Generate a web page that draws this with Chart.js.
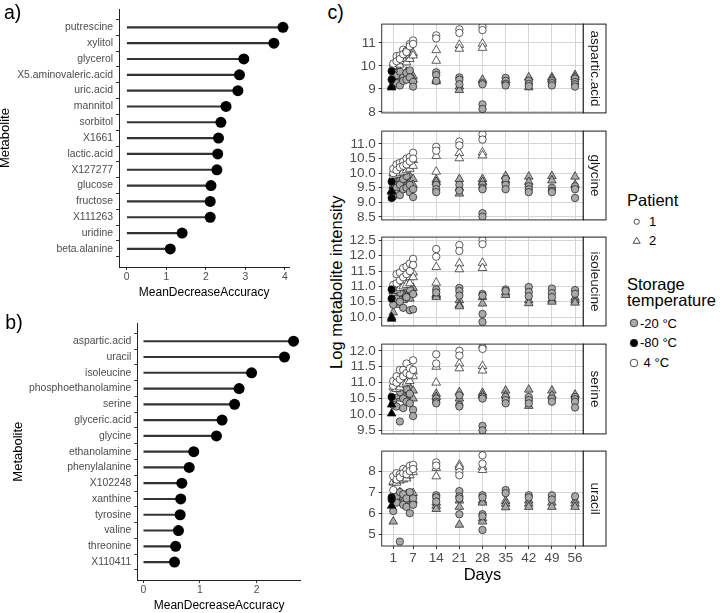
<!DOCTYPE html>
<html><head><meta charset="utf-8">
<script src="https://cdn.jsdelivr.net/npm/chart.js@4.4.0/dist/chart.umd.min.js"></script>
<style>
body{margin:0;background:#fff;}
#wrap{position:relative;width:720px;height:613px;overflow:hidden;background:#fff;font-family:"Liberation Sans",Arial,sans-serif;}
canvas{position:absolute;}
.lbl{position:absolute;color:#000;white-space:pre;line-height:1;}
.sym{position:absolute;}
</style></head><body>
<div id="wrap">
<canvas id="ca" width="300" height="300" style="left:0;top:0"></canvas>
<canvas id="cb" width="310" height="313" style="left:0;top:300px"></canvas>
<div class="lbl" style="left:4px;top:2.7px;font-size:19.5px">a)</div>
<div class="lbl" style="left:5.3px;top:312.7px;font-size:19.5px">b)</div>
<div class="lbl" style="left:327.5px;top:2.7px;font-size:19.5px">c)</div>
<div class="lbl" style="left:185.5px;top:273.75px;width:300px;text-align:center;font-size:16.5px;transform:rotate(-90deg);transform-origin:150px 8.25px">Log metabolite intensity</div>

<div class="lbl" style="left:627px;top:192px;font-size:16.5px">Patient</div>
<svg class="sym" style="left:630px;top:215px" width="14" height="14"><circle cx="6.7" cy="6.7" r="2.6" fill="none" stroke="#222" stroke-width="0.8"/></svg>
<div class="lbl" style="left:649px;top:215.3px;font-size:13px">1</div>
<svg class="sym" style="left:630px;top:234px" width="14" height="14"><polygon points="6.7,3.2 10.2,9.3 3.2,9.3" fill="none" stroke="#222" stroke-width="0.8"/></svg>
<div class="lbl" style="left:649px;top:234.3px;font-size:13px">2</div>

<div class="lbl" style="left:627px;top:276px;font-size:16.5px">Storage</div>
<div class="lbl" style="left:627px;top:292px;font-size:16.5px">temperature</div>
<svg class="sym" style="left:627px;top:316.3px" width="14" height="14"><circle cx="7" cy="7" r="3.8" fill="#a9a9a9" stroke="#222" stroke-width="0.8"/></svg>
<div class="lbl" style="left:640px;top:316.9px;font-size:13px">-20 °C</div>
<svg class="sym" style="left:627px;top:335.7px" width="14" height="14"><circle cx="7" cy="7" r="3.8" fill="#000" stroke="#222" stroke-width="0.8"/></svg>
<div class="lbl" style="left:640px;top:336.3px;font-size:13px">-80 °C</div>
<svg class="sym" style="left:627px;top:355.7px" width="14" height="14"><circle cx="7" cy="7" r="3.8" fill="#fff" stroke="#222" stroke-width="0.8"/></svg>
<div class="lbl" style="left:640px;top:356.3px;font-size:13px"> 4 °C</div>
</div>
<script>
// ---------------- data: panel a ----------------
const metabolitesA = ["putrescine","xylitol","glycerol","X5.aminovaleric.acid","uric.acid","mannitol","sorbitol","X1661","lactic.acid","X127277","glucose","fructose","X111263","uridine","beta.alanine"];
const accuracyA = [3.95,3.72,2.96,2.85,2.81,2.51,2.38,2.32,2.30,2.28,2.13,2.11,2.11,1.40,1.10];
const ticksA = [0,1,2,3,4];
// ---------------- data: panel b ----------------
const metabolitesB = ["aspartic.acid","uracil","isoleucine","phosphoethanolamine","serine","glyceric.acid","glycine","ethanolamine","phenylalanine","X102248","xanthine","tyrosine","valine","threonine","X110411"];
const accuracyB = [2.65,2.49,1.91,1.69,1.61,1.39,1.29,0.89,0.81,0.68,0.66,0.65,0.62,0.57,0.55];
const ticksB = [0,1,2];
// ---------------- data: panel c ----------------
const facetNames = ["aspartic.acid","glycine","isoleucine","serine","uracil"];
const dayTicks = [1,7,14,21,28,35,42,49,56];
const yTicks = [[8,9,10,11],[8.5,9,9.5,10,10.5,11],[10,10.5,11,11.5,12,12.5],[9.5,10,10.5,11,11.5,12],[5,6,7,8]];
const yLimits = [[7.96,11.81],[8.4,11.44],[9.71,12.61],[9.39,12.21],[4.44,8.95]];
// [day, log intensity]; w = 4 °C, g = -20 °C, b = -80 °C; 1/2 = patient
const asp_w1 = [[1,10.0],[1,10.1],[2,10.42],[2,10.2],[3,10.45],[3,10.3],[4,10.7],[4,10.5],[5,10.65],[5,10.6],[6,10.95],[6,10.85],[7,11.1],[7,10.95],[14,11.32],[14,11.19],[21,11.58],[21,11.43],[28,11.69],[28,11.55]];
const asp_w2 = [[1,9.85],[1,9.95],[2,10.1],[2,10.0],[3,10.15],[3,10.05],[4,10.3],[4,10.2],[5,10.3],[5,10.15],[6,10.45],[6,10.3],[7,10.55],[7,10.45],[14,10.68],[14,10.22],[21,10.91],[21,10.74],[28,10.96],[28,10.78]];
const asp_g1 = [[1,9.5],[1,9.3],[2,9.6],[2,9.25],[3,9.75],[3,9.15],[4,9.5],[4,9.35],[5,9.7],[5,9.4],[6,9.8],[6,9.5],[7,9.3],[7,9.1],[14,9.72],[14,9.6],[14,9.35],[21,9.5],[21,9.4],[21,9.2],[28,9.25],[28,9.2],[28,8.33],[28,8.13],[35,9.48],[35,9.35],[35,9.22],[35,9.15],[42,9.35],[42,9.22],[42,9.12],[49,9.35],[49,9.25],[49,9.15],[56,9.45],[56,9.3],[56,9.2],[56,9.1]];
const asp_g2 = [[1,9.55],[1,9.4],[2,9.45],[2,9.6],[3,9.7],[3,9.5],[4,9.6],[4,9.45],[5,9.75],[5,9.55],[6,9.65],[6,9.5],[7,9.55],[7,9.4],[14,9.4],[14,9.33],[21,9.1],[21,8.95],[28,9.4],[35,9.38],[42,9.5],[42,9.07],[49,9.5],[49,9.42],[56,9.6],[56,9.5]];
const asp_b1 = [[0.5,9.77],[0.5,9.41]];
const asp_b2 = [[0.5,9.13],[0.5,9.06]];

const gly_w1 = [[1,10.0],[1,10.15],[2,10.3],[2,10.1],[3,10.35],[3,10.2],[4,10.4],[4,10.25],[5,10.5],[5,10.3],[6,10.55],[6,10.4],[7,10.7],[7,10.5],[14,10.9],[14,10.77],[21,11.08],[21,10.95],[28,11.33],[28,11.15]];
const gly_w2 = [[1,9.9],[1,10.0],[2,10.1],[2,9.95],[3,10.15],[3,10.0],[4,10.2],[4,10.05],[5,10.3],[5,10.1],[6,10.35],[6,10.15],[7,10.45],[7,10.25],[14,10.59],[14,10.05],[21,10.69],[21,10.51],[28,10.71],[28,10.61]];
const gly_g1 = [[1,9.4],[1,9.2],[2,9.5],[2,9.3],[3,9.6],[3,9.25],[4,9.8],[4,9.45],[5,9.9],[5,9.5],[6,9.6],[6,9.35],[7,9.45],[7,9.18],[14,9.6],[14,9.45],[14,9.35],[21,9.6],[21,9.4],[28,9.6],[28,9.5],[28,9.45],[28,8.63],[28,8.51],[35,9.8],[35,9.6],[35,9.45],[42,9.55],[42,9.45],[42,9.35],[49,9.5],[49,9.4],[49,9.35],[56,9.55],[56,9.45],[56,9.15]];
const gly_g2 = [[1,9.55],[1,9.6],[2,9.7],[2,9.5],[3,9.8],[3,9.65],[4,9.95],[4,9.7],[5,9.85],[5,9.6],[6,9.9],[6,9.7],[7,9.8],[7,9.6],[14,9.78],[14,9.7],[21,9.8],[21,9.5],[21,9.3],[28,9.8],[28,9.7],[35,9.9],[35,9.75],[42,9.88],[42,9.7],[49,9.9],[49,9.75],[56,9.88],[56,9.6]];
const gly_b1 = [[0.5,9.71],[0.5,9.15]];
const gly_b2 = [[0.5,9.4],[0.5,9.36]];

const ile_w1 = [[1,10.95],[1,11.05],[2,11.4],[2,11.1],[3,11.45],[3,11.2],[4,11.6],[4,11.3],[5,11.65],[5,11.4],[6,11.75],[6,11.5],[7,11.9],[7,11.7],[14,12.22],[14,11.97],[21,12.35],[21,12.16],[28,12.51],[28,12.38]];
const ile_w2 = [[1,10.85],[1,10.95],[2,11.0],[2,10.9],[3,11.1],[3,10.95],[4,11.15],[4,11.0],[5,11.2],[5,11.05],[6,11.3],[6,11.1],[7,11.45],[7,11.3],[14,11.63],[14,11.12],[21,11.75],[21,11.56],[28,11.77],[28,11.6]];
const ile_g1 = [[1,10.7],[1,10.4],[2,10.9],[2,10.6],[3,10.8],[3,10.5],[4,11.0],[4,10.3],[5,10.95],[5,10.65],[6,10.9],[6,10.22],[7,10.75],[7,10.25],[14,10.9],[14,10.8],[21,10.95],[21,10.85],[21,10.7],[28,10.75],[28,10.7],[28,10.1],[28,9.84],[35,10.9],[35,10.85],[42,10.98],[42,10.82],[42,10.68],[49,10.93],[49,10.78],[49,10.65],[56,10.88],[56,10.76]];
const ile_g2 = [[1,10.15],[1,10.6],[2,10.8],[2,10.5],[3,10.9],[3,10.4],[4,10.75],[4,10.55],[5,11.0],[5,10.7],[6,10.85],[6,10.6],[7,10.95],[7,10.8],[14,10.75],[14,10.7],[14,10.65],[21,10.55],[21,10.4],[21,10.35],[28,10.65],[28,10.44],[35,10.8],[35,10.72],[42,10.55],[42,10.45],[49,10.57],[49,10.5],[56,10.63],[56,10.54],[56,10.47]];
const ile_b1 = [[0.5,10.9],[0.5,10.6]];
const ile_b2 = [[0.5,10.0],[0.5,9.94]];

const ser_w1 = [[1,10.9],[1,11.05],[2,11.2],[2,11.0],[3,11.4],[3,11.1],[4,11.4],[4,11.2],[5,11.6],[5,11.3],[6,11.45],[6,11.25],[7,11.7],[7,11.4],[14,11.89],[14,11.6],[21,12.0],[21,11.85],[28,12.11],[28,12.06]];
const ser_w2 = [[1,10.7],[1,10.85],[2,10.95],[2,10.8],[3,11.0],[3,10.85],[4,11.1],[4,10.95],[5,11.15],[5,11.0],[6,11.25],[6,11.05],[7,11.35],[7,11.2],[14,11.5],[14,11.0],[21,11.6],[21,11.45],[28,11.52],[28,11.38]];
const ser_g1 = [[1,10.45],[1,10.3],[2,10.6],[2,10.25],[3,10.7],[3,9.78],[4,10.5],[4,10.2],[5,10.8],[5,10.4],[6,10.65],[6,10.35],[7,10.15],[7,9.95],[14,10.5],[14,10.4],[14,10.35],[21,10.6],[21,10.3],[21,10.25],[28,10.55],[28,10.5],[28,9.64],[28,9.5],[35,10.55],[35,10.45],[35,10.35],[42,10.55],[42,10.45],[42,10.35],[49,10.5],[49,10.4],[56,10.55],[56,10.48],[56,10.4],[56,10.22]];
const ser_g2 = [[1,10.55],[1,10.4],[2,10.7],[2,10.5],[3,10.8],[3,10.6],[4,10.9],[4,10.65],[5,10.75],[5,10.55],[6,10.85],[6,10.6],[7,10.75],[7,10.5],[14,10.65],[14,10.55],[21,10.7],[21,10.5],[28,10.68],[28,10.6],[35,10.75],[35,10.6],[42,10.78],[42,10.27],[49,10.75],[49,10.6],[56,10.62]];
const ser_b1 = [[0.5,10.55]];
const ser_b2 = [[0.5,10.31],[0.5,10.03]];

const ura_w1 = [[1,7.1],[1,7.75],[2,7.9],[2,7.6],[3,7.85],[3,7.7],[4,8.1],[4,7.9],[5,8.05],[5,7.85],[6,8.25],[6,8.0],[7,8.3],[7,8.1],[14,8.41],[14,8.26],[21,7.95],[21,7.8],[28,8.75],[28,8.35]];
const ura_w2 = [[1,7.45],[1,7.5],[2,7.6],[2,7.45],[3,7.7],[3,7.55],[4,7.8],[4,7.6],[5,7.75],[5,7.65],[6,8.0],[6,7.8],[7,7.95],[7,8.2],[14,8.15],[14,7.75],[21,8.3],[21,8.2],[28,8.2],[28,8.05]];
const ura_g1 = [[1,6.6],[1,6.1],[2,6.8],[2,6.5],[3,7.0],[3,4.65],[4,6.9],[4,6.4],[5,6.7],[5,6.3],[6,7.0],[6,6.0],[7,6.7],[7,6.4],[14,6.85],[14,6.75],[14,6.55],[21,7.05],[21,6.8],[21,6.7],[21,5.95],[28,6.85],[28,6.75],[28,5.95],[28,5.85],[28,5.2],[35,7.1],[35,6.95],[42,6.85],[42,6.75],[49,6.85],[49,6.65],[56,6.8]];
const ura_g2 = [[1,6.7],[1,5.6],[2,6.8],[2,6.6],[3,7.0],[3,6.5],[4,6.75],[4,6.55],[5,6.9],[5,6.6],[6,6.85],[6,6.5],[7,6.95],[7,6.6],[14,6.5],[14,6.35],[14,6.2],[21,6.6],[21,6.3],[21,5.45],[28,6.6],[28,6.5],[28,5.75],[28,5.6],[35,6.58],[35,6.45],[35,6.28],[42,6.6],[42,6.45],[42,6.3],[49,6.5],[49,6.3],[56,6.6],[56,6.45],[56,6.3]];
const ura_b1 = [[0.5,6.76],[0.5,6.65]];
const ura_b2 = [[0.5,6.35]];

const facetSeries = [
  {b1:asp_b1,b2:asp_b2,w1:asp_w1,w2:asp_w2,g1:asp_g1,g2:asp_g2},
  {b1:gly_b1,b2:gly_b2,w1:gly_w1,w2:gly_w2,g1:gly_g1,g2:gly_g2},
  {b1:ile_b1,b2:ile_b2,w1:ile_w1,w2:ile_w2,g1:ile_g1,g2:ile_g2},
  {b1:ser_b1,b2:ser_b2,w1:ser_w1,w2:ser_w2,g1:ser_g1,g2:ser_g2},
  {b1:ura_b1,b2:ura_b2,w1:ura_w1,w2:ura_w2,g1:ura_g1,g2:ura_g2}
];

// ---------------- rendering ----------------
const F = '"Liberation Sans", Arial, sans-serif';
Chart.defaults.font.family = F;
Chart.defaults.color = '#4d4d4d';
const TICKCOL = '#333';

function lollipop(id, names, vals, ticks, xmin, xmax, yWidth, titlePad){
  const pts = vals.map((v,i)=>({x:v,y:i}));
  return new Chart(document.getElementById(id), {
    type:'scatter',
    data:{datasets:[
      {type:'scatter', data:pts, pointRadius:5.5, pointBackgroundColor:'#000', pointBorderWidth:0},
      {type:'bar', indexAxis:'y', data:pts, backgroundColor:'#333', barThickness:1.5}
    ]},
    options:{
      responsive:false, animation:false, events:[],
      layout:{padding:{top:id==='ca'?8.8:23.2, right:id==='ca'?10.7:9.1, left:0, bottom:0}},
      plugins:{legend:{display:false}, tooltip:{enabled:false}},
      scales:{
        x:{type:'linear', min:xmin, max:xmax,
           afterBuildTicks:s=>{s.ticks=ticks.map(v=>({value:v}));},
           grid:{display:true, drawOnChartArea:false, drawTicks:true, tickLength:3, tickColor:TICKCOL},
           border:{display:true, color:'#222', width:1},
           ticks:{color:'#4d4d4d', font:{size:10.4}, padding:1, autoSkip:false, maxRotation:0},
           title:{display:true, text:'MeanDecreaseAccuracy', color:'#000', font:{size:12}, padding:{top:0,bottom:0}},
           afterFit:s=>{s.height=id==='ca'?33:32.9;}},
        y:{type:'linear', min:-0.6, max:names.length-0.4, reverse:true,
           afterBuildTicks:s=>{s.ticks=names.map((n,i)=>({value:i}));},
           grid:{display:true, drawOnChartArea:false, drawTicks:true, tickLength:3, tickColor:TICKCOL},
           border:{display:true, color:'#222', width:1},
           ticks:{color:'#4d4d4d', font:{size:10.4}, padding:3, autoSkip:false, callback:v=>names[v]},
           title:{display:true, text:'Metabolite', color:'#000', font:{size:13, lineHeight:1}, padding:{top:titlePad,bottom:0}},
           afterFit:s=>{s.width=yWidth;}}
      }
    }
  });
}
lollipop('ca', metabolitesA, accuracyA, ticksA, -0.196, 4.11, 119, -1.5);
lollipop('cb', metabolitesB, accuracyB, ticksB, -0.106, 2.78, 137.3, 12);

const stripPlugin = {
  id:'strip',
  afterDraw(chart, args, opts){
    const {ctx, chartArea:a} = chart;
    ctx.save();
    ctx.strokeStyle = '#333'; ctx.lineWidth = 1;
    ctx.strokeRect(a.left, a.top, a.right-a.left, a.bottom-a.top);
    ctx.fillStyle = '#fff';
    ctx.fillRect(a.right, a.top, 22.7, a.bottom-a.top);
    ctx.strokeStyle = '#1a1a1a';
    ctx.strokeRect(a.right, a.top, 22.7, a.bottom-a.top);
    ctx.translate(a.right+11.35, (a.top+a.bottom)/2);
    ctx.rotate(Math.PI/2);
    ctx.fillStyle = '#1a1a1a'; ctx.font = '13.5px '+F;
    ctx.textAlign = 'center'; ctx.textBaseline = 'middle';
    ctx.fillText(opts.text, 0, 0);
    ctx.restore();
  }
};

const facetTop = [19,125.7,232.3,339.3,445.7];
const facetBottom = [118.3,225,331.7,439,545.7];
const wrap = document.getElementById('wrap');
const GRAY = '#a9a9a9';
function ds(arr, fill, shape, r){
  return {data:arr.map(p=>({x:p[0],y:p[1]})), pointStyle:shape, pointRadius:r,
          pointBackgroundColor:fill, pointBorderColor:'#1a1a1a', pointBorderWidth:0.7, showLine:false};
}
facetNames.forEach((name,i)=>{
  const last = i===facetNames.length-1;
  const h = facetBottom[i]-facetTop[i];
  const cv = document.createElement('canvas');
  cv.width = 285; cv.height = Math.round(h + 6 + (last?40:6));
  cv.style.left = '325px'; cv.style.top = (facetTop[i]-6)+'px';
  wrap.appendChild(cv);
  const s = facetSeries[i];
  const dec = (i===0||i===4)?0:1;
  new Chart(cv, {
    type:'scatter',
    data:{datasets:[
      ds(s.b1,'#000','circle',3.7), ds(s.b2,'#000','triangle',5),
      ds(s.w1,'#fff','circle',3.7), ds(s.w2,'#fff','triangle',5),
      ds(s.g1,GRAY,'circle',3.7), ds(s.g2,GRAY,'triangle',5)
    ]},
    options:{
      responsive:false, animation:false, events:[],
      layout:{padding:{top:6, bottom:last?0:6, left:0, right:26.7}},
      plugins:{legend:{display:false}, tooltip:{enabled:false}, strip:{text:name}},
      scales:{
        x:{type:'linear', min:-2.5, max:58.5,
           afterBuildTicks:sc=>{sc.ticks=dayTicks.map(v=>({value:v}));},
           grid:{color:'#d6d6d6', lineWidth:1, drawTicks:last, tickLength:3, tickColor:TICKCOL},
           border:{display:false},
           ticks:{display:last, color:'#4d4d4d', font:{size:13.5}, padding:1, autoSkip:false, maxRotation:0},
           title:{display:last, text:'Days', color:'#000', font:{size:16.5}, padding:{top:0,bottom:1}},
           afterFit:sc=>{sc.height = last?40:0;}},
        y:{type:'linear', min:yLimits[i][0], max:yLimits[i][1],
           afterBuildTicks:sc=>{sc.ticks=yTicks[i].map(v=>({value:v}));},
           grid:{color:'#d6d6d6', lineWidth:1, drawTicks:true, tickLength:3, tickColor:TICKCOL},
           border:{display:false},
           ticks:{color:'#4d4d4d', font:{size:13.5}, padding:3, autoSkip:false, callback:v=>Number(v).toFixed(dec)},
           afterFit:sc=>{sc.width=56.7;}}
      }
    },
    plugins:[stripPlugin]
  });
});
</script>
</body></html>
